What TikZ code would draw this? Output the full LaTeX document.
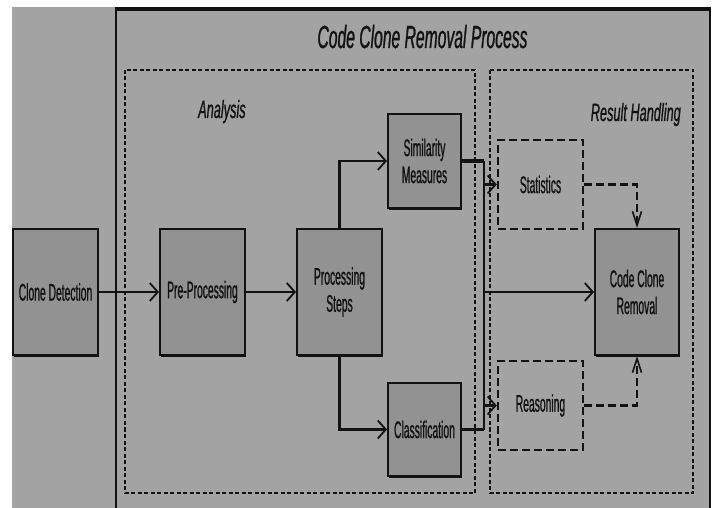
\documentclass[tikz,border=0pt]{standalone}
\usepackage{fontspec}
\setmainfont{Liberation Sans}[FakeStretch=0.43,FakeBold=0.8]
\newfontfamily\titlefont{Liberation Sans}[FakeStretch=0.49,FakeBold=0.8]
\newfontfamily\labfont{Liberation Sans}[FakeStretch=0.51,FakeBold=0.8]
\usetikzlibrary{arrows.meta}
\definecolor{bgray}{RGB}{163,163,163}
\definecolor{boxgray}{RGB}{146,146,146}
\definecolor{ink}{RGB}{18,18,18}
\tikzset{
  solidbox/.style={draw=ink, line width=2pt, fill=boxgray, inner sep=0pt, align=center,
    font=\fontsize{24}{27}\selectfont, text=ink,
    preaction={fill=ink, transform canvas={xshift=0.8pt,yshift=-1.6pt}}},
  dashbox/.style={draw=ink, line width=2.4pt, dash pattern=on 8pt off 4pt, inner sep=0pt, align=center,
    font=\fontsize{24}{27}\selectfont, text=ink},
  region/.style={draw=ink, line width=2.2pt, dash pattern=on 4pt off 2.5pt},
  conn/.style={draw=ink, line width=2.2pt},
  thickconn/.style={draw=ink, line width=3.4pt},
  harr/.style={draw=ink, line width=2.2pt, -{Straight Barb[length=8pt,width=18pt,line width=1.8pt]}},
  vdash/.style={draw=ink, line width=2.4pt, dash pattern=on 8pt off 4pt, -{Straight Barb[length=14pt,width=9pt,line width=1.6pt]}},
  lab/.style={font=\labfont\itshape\fontsize{25}{28}\selectfont, text=ink, inner sep=0pt}
}
\begin{document}
\begin{tikzpicture}[x=1pt,y=-1pt]
\useasboundingbox (0,0) rectangle (716,508);
\clip (0,0) rectangle (716,508);
\fill[white] (0,0) rectangle (716,508);
\fill[bgray] (12,7) rectangle (710,508);
% outer process frame
\draw[ink, line width=1.8pt] (116,9) -- (116,512);
\draw[ink, line width=1.8pt] (710,9) -- (710,512);
\draw[ink, line width=3.5pt] (115.2,9) -- (710.8,9);
% title
\node[font=\titlefont\itshape\fontsize{32}{36}\selectfont, text=ink, anchor=base, inner sep=0pt] (title) at (422.5,48) {Code Clone Removal Process};
% regions
\draw[region] (125,70) rectangle (475,493);
\draw[region] (490,70) rectangle (693,493);
\node[lab, anchor=base west] (analysis) at (198,118) {Analysis};
\node[lab, anchor=base east] (result) at (681,121) {Result Handling};
% nodes
\node[solidbox, minimum width=85pt, minimum height=126pt] (det) at (55.5,292) {Clone Detection};
\node[solidbox, minimum width=85pt, minimum height=126pt] (pre) at (202.5,292) {Pre-Processing};
\node[solidbox, minimum width=85pt, minimum height=126pt] (proc) at (339.5,292) {Processing\\Steps};
\node[solidbox, minimum width=73pt, minimum height=94pt] (sim) at (424.5,161) {Similarity\\Measures};
\node[solidbox, minimum width=73pt, minimum height=93pt] (cls) at (424.5,429.5) {Classification};
\node[solidbox, minimum width=84pt, minimum height=126pt] (ccr) at (637,292) {Code Clone\\Removal};
\node[dashbox, minimum width=85pt, minimum height=89pt] (stat) at (540.5,184.5) {Statistics};
\node[dashbox, minimum width=85pt, minimum height=89pt] (reas) at (540.5,405.5) {Reasoning};
% connectors
\draw[harr] (det) -- (pre);
\draw[harr] (pre) -- (proc);
\draw[harr] (proc.north) |- (sim.west);
\draw[harr] (proc.south) |- (cls.west);
\coordinate (j1) at (484,161);
\coordinate (j2) at (484,429.5);
\draw[thickconn] (sim.east) -- (j1);
\draw[thickconn] (cls.east) -- (j2);
\draw[conn] (j1) -- (j2);
\draw[harr] (j1 |- stat.west) -- (stat.west);
\draw[harr] (j1 |- ccr.west) -- (ccr.west);
\draw[harr] (j1 |- reas.west) -- (reas.west);
\draw[vdash] (stat.east) -| (ccr.north);
\draw[vdash] (reas.east) -| (ccr.south);
\end{tikzpicture}
\end{document}
